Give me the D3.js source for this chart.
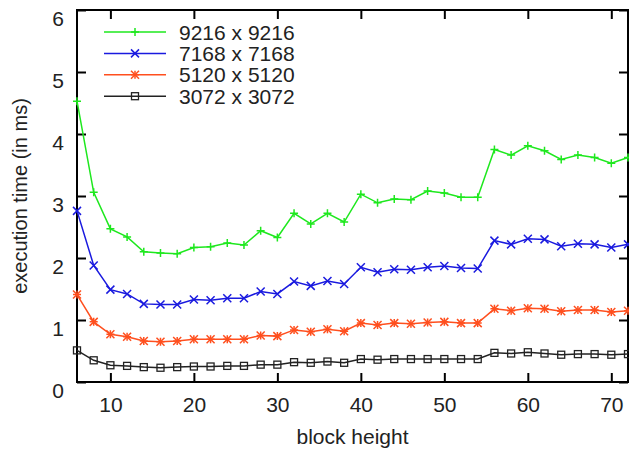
<!DOCTYPE html>
<html>
<head>
<meta charset="utf-8">
<script src="https://cdn.jsdelivr.net/npm/d3@7"></script>
<style>
  body { margin: 0; background: #fff; }
  svg { display: block; font-family: "Liberation Sans", Arial, sans-serif; }
</style>
</head>
<body>
<div id="chart"></div>
<script>
// block heights (x)
const blockHeights = d3.range(6, 73, 2);

// execution times in ms, one array per matrix size
const time9216 = [4.53, 3.06, 2.47, 2.34, 2.10, 2.08, 2.07, 2.17, 2.18, 2.24, 2.21, 2.44, 2.33, 2.72, 2.55, 2.72, 2.58,
  3.03, 2.89, 2.95, 2.94, 3.08, 3.05, 2.98, 2.98, 3.75, 3.66, 3.81, 3.73, 3.59, 3.66, 3.62, 3.53, 3.62];
const time7168 = [2.76, 1.88, 1.49, 1.42, 1.26, 1.25, 1.25, 1.33, 1.32, 1.35, 1.35, 1.46, 1.42, 1.62, 1.55, 1.63, 1.58,
  1.85, 1.77, 1.82, 1.81, 1.85, 1.87, 1.84, 1.83, 2.28, 2.22, 2.31, 2.30, 2.19, 2.23, 2.22, 2.17, 2.22];
const time5120 = [1.41, 0.97, 0.77, 0.73, 0.66, 0.65, 0.66, 0.69, 0.69, 0.69, 0.69, 0.75, 0.74, 0.84, 0.81, 0.85, 0.82,
  0.95, 0.92, 0.95, 0.94, 0.96, 0.97, 0.95, 0.95, 1.18, 1.15, 1.19, 1.18, 1.14, 1.16, 1.16, 1.13, 1.15];
const time3072 = [0.51, 0.35, 0.27, 0.26, 0.24, 0.23, 0.24, 0.25, 0.25, 0.26, 0.26, 0.28, 0.28, 0.32, 0.31, 0.33, 0.31,
  0.37, 0.36, 0.37, 0.37, 0.37, 0.37, 0.37, 0.37, 0.47, 0.46, 0.48, 0.46, 0.44, 0.45, 0.45, 0.44, 0.45];

const seriesNames = ['9216 x 9216', '7168 x 7168', '5120 x 5120', '3072 x 3072'];
const seriesColors = ['#1ee81e', '#1a1adf', '#ff4f1e', '#222222'];
const seriesMarks = ['plus', 'cross', 'star', 'square'];

const xTicks = [10, 20, 30, 40, 50, 60, 70];
const yTicks = [0, 1, 2, 3, 4, 5, 6];

const width = 629, height = 451;
const margin = { top: 10, right: 1, bottom: 69, left: 77 };

const series = [time9216, time7168, time5120, time3072].map((vals, i) => ({
  name: seriesNames[i],
  color: seriesColors[i],
  mark: seriesMarks[i],
  values: vals.map((v, j) => ({ x: blockHeights[j], y: v })),
}));

const svg = d3.select('#chart').append('svg')
  .attr('width', width)
  .attr('height', height);

const x = d3.scaleLinear().domain([6, 72]).range([margin.left, width - margin.right]);
const y = d3.scaleLinear().domain([0, 6]).range([height - margin.bottom, margin.top]);

const fontSize = 21;

// axes with inward ticks on all four sides
const tickLen = 9;
const gx = svg.append('g').attr('transform', `translate(0,${y(0)})`)
  .call(d3.axisBottom(x).tickValues(xTicks).tickSize(-tickLen).tickPadding(0).tickFormat(d3.format('d')));
gx.selectAll('text').attr('dy', null).attr('y', 30).attr('font-size', fontSize).attr('fill', '#222');
const gxTop = svg.append('g').attr('transform', `translate(0,${y(6)})`)
  .call(d3.axisTop(x).tickValues(xTicks).tickSize(-tickLen).tickFormat(''));
const gy = svg.append('g').attr('transform', `translate(${x(6)},0)`)
  .call(d3.axisLeft(y).tickValues(yTicks).tickSize(-tickLen).tickPadding(13).tickFormat(d3.format('d')));
gy.selectAll('text').attr('dy', '0.72em').attr('y', 0).attr('font-size', fontSize).attr('fill', '#222');
const gyRight = svg.append('g').attr('transform', `translate(${x(72)},0)`)
  .call(d3.axisRight(y).tickValues(yTicks).tickSize(-tickLen).tickFormat(''));

[gx, gxTop, gy, gyRight].forEach((g) => {
  g.select('.domain').remove();
  g.selectAll('line').attr('stroke', '#000').attr('stroke-width', 2);
});

svg.append('rect')
  .attr('x', x(6)).attr('y', y(6))
  .attr('width', x(72) - x(6)).attr('height', y(0) - y(6))
  .attr('fill', 'none').attr('stroke', '#000').attr('stroke-width', 2);

// axis titles
svg.append('text')
  .attr('x', (x(6) + x(72)) / 2).attr('y', 444)
  .attr('text-anchor', 'middle').attr('font-size', 21).attr('fill', '#222')
  .text('block height');
svg.append('text')
  .attr('transform', `translate(27,${(y(0) + y(6)) / 2}) rotate(-90)`)
  .attr('text-anchor', 'middle').attr('font-size', 20).attr('fill', '#222')
  .text('execution time (in ms)');

// marker drawing
function drawMark(g, type, color, size) {
  const s = size / 2;
  if (type === 'plus' || type === 'star') {
    g.append('path').attr('d', `M${-s},0H${s}M0,${-s}V${s}`)
      .attr('stroke', color).attr('stroke-width', 1.5).attr('fill', 'none');
  }
  if (type === 'cross' || type === 'star') {
    g.append('path').attr('d', `M${-s},${-s}L${s},${s}M${-s},${s}L${s},${-s}`)
      .attr('stroke', color).attr('stroke-width', 1.5).attr('fill', 'none');
  }
  if (type === 'square') {
    g.append('rect').attr('x', -3.5).attr('y', -3.5).attr('width', 7).attr('height', 7)
      .attr('stroke', color).attr('stroke-width', 1.3).attr('fill', 'none');
  }
}

const line = d3.line().x((d) => x(d.x)).y((d) => y(d.y));

const plot = svg.append('g');
series.slice().reverse().forEach((s) => {
  plot.append('path')
    .datum(s.values)
    .attr('d', line)
    .attr('fill', 'none')
    .attr('stroke', s.color)
    .attr('stroke-width', 1.5);
  plot.selectAll(null)
    .data(s.values)
    .enter().append('g')
    .attr('transform', (d) => `translate(${x(d.x)},${y(d.y)})`)
    .each(function addMark() {
      drawMark(d3.select(this), s.mark, s.color, s.mark === 'square' ? 7 : 8);
    });
});

// legend
const legend = svg.append('g');
series.forEach((s, i) => {
  const ly = 32 + i * 21.4;
  legend.append('line')
    .attr('x1', 104).attr('x2', 166).attr('y1', ly).attr('y2', ly)
    .attr('stroke', s.color).attr('stroke-width', 1.5);
  const mg = legend.append('g').attr('transform', `translate(135,${ly})`);
  drawMark(mg, s.mark, s.color, s.mark === 'square' ? 7 : 8);
  legend.append('text')
    .attr('x', 179).attr('y', ly).attr('dy', '0.36em')
    .attr('font-size', 21).attr('fill', '#222')
    .text(s.name);
});
</script>
</body>
</html>
